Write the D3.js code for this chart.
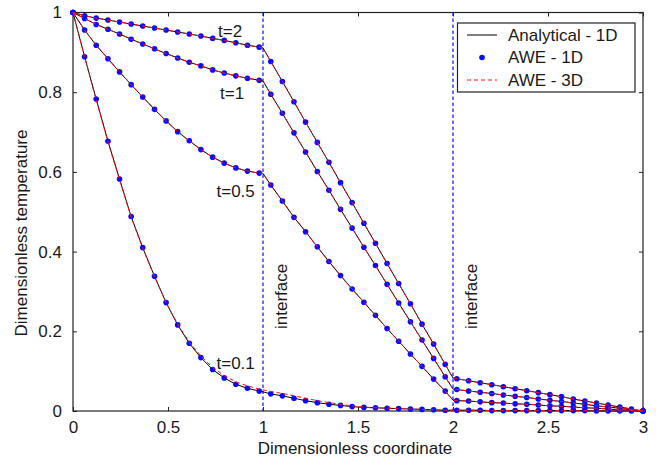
<!DOCTYPE html>
<html>
<head>
<meta charset="utf-8">
<script src="https://cdn.jsdelivr.net/npm/d3@7"></script>
<style>
  body { margin: 0; background: #fff; }
  text { font-family: "Liberation Sans", Arial, sans-serif; fill: #1a1a1a; }
</style>
</head>
<body>
<svg id="chart" width="656" height="459"></svg>
<script>
// dimensionless coordinate (dot grid plus the two interfaces)
const xGrid = [0, 0.061, 0.122, 0.184, 0.245, 0.306, 0.367, 0.429, 0.490, 0.551, 0.612, 0.673, 0.735, 0.796, 0.857, 0.918, 0.980, 1.0,
  1.041, 1.102, 1.163, 1.224, 1.286, 1.347, 1.408, 1.469, 1.531, 1.592, 1.653, 1.714, 1.776, 1.837, 1.898, 1.959, 2.0,
  2.020, 2.082, 2.143, 2.204, 2.265, 2.327, 2.388, 2.449, 2.510, 2.571, 2.633, 2.694, 2.755, 2.816, 2.878, 2.939, 3.0]
const interfaceX = [1, 2]

// temperature profiles, analytical 1D
const t2 = [1.0, 0.992, 0.986, 0.981, 0.976, 0.971, 0.966, 0.961, 0.956, 0.951, 0.946, 0.941, 0.935, 0.930, 0.924, 0.918, 0.913, 0.911,
  0.877, 0.827, 0.776, 0.725, 0.674, 0.624, 0.573, 0.523, 0.471, 0.421, 0.370, 0.320, 0.269, 0.218, 0.168, 0.117, 0.083,
  0.081, 0.076, 0.071, 0.066, 0.061, 0.056, 0.051, 0.046, 0.041, 0.036, 0.030, 0.025, 0.020, 0.015, 0.010, 0.005, 0]
const t1 = [1.0, 0.985, 0.970, 0.958, 0.946, 0.933, 0.921, 0.909, 0.897, 0.886, 0.875, 0.866, 0.856, 0.848, 0.841, 0.835, 0.830, 0.828,
  0.795, 0.747, 0.698, 0.650, 0.601, 0.554, 0.506, 0.459, 0.411, 0.365, 0.318, 0.271, 0.224, 0.178, 0.132, 0.086, 0.055,
  0.054, 0.050, 0.047, 0.044, 0.040, 0.037, 0.034, 0.030, 0.027, 0.024, 0.020, 0.017, 0.013, 0.010, 0.007, 0.003, 0]
const t05 = [1.0, 0.956, 0.918, 0.884, 0.851, 0.819, 0.788, 0.757, 0.728, 0.701, 0.678, 0.656, 0.637, 0.622, 0.610, 0.602, 0.597, 0.596,
  0.567, 0.527, 0.486, 0.450, 0.412, 0.375, 0.340, 0.306, 0.273, 0.240, 0.207, 0.175, 0.143, 0.112, 0.080, 0.050, 0.027,
  0.026, 0.025, 0.023, 0.021, 0.020, 0.018, 0.017, 0.015, 0.013, 0.012, 0.010, 0.008, 0.007, 0.005, 0.003, 0.002, 0]
const t01 = [1.0, 0.889, 0.783, 0.677, 0.582, 0.488, 0.410, 0.338, 0.272, 0.216, 0.170, 0.134, 0.104, 0.083, 0.067, 0.057, 0.050, 0.048,
  0.043, 0.038, 0.032, 0.026, 0.021, 0.017, 0.014, 0.011, 0.009, 0.008, 0.007, 0.006, 0.005, 0.004, 0.003, 0.002, 0.002,
  0.002, 0.002, 0.002, 0.001, 0.001, 0.001, 0.001, 0.001, 0.001, 0.001, 0.001, 0.001, 0, 0, 0, 0, 0]
// AWE 3D differs visibly only for t=0.1
const t01Awe3d = [1.0, 0.889, 0.781, 0.675, 0.580, 0.487, 0.408, 0.337, 0.272, 0.218, 0.173, 0.138, 0.109, 0.089, 0.073, 0.063, 0.055, 0.053,
  0.049, 0.044, 0.038, 0.032, 0.026, 0.021, 0.017, 0.013, 0.010, 0.008, 0.007, 0.006, 0.005, 0.004, 0.003, 0.002, 0.002,
  0.002, 0.002, 0.002, 0.001, 0.001, 0.001, 0.001, 0.001, 0.001, 0.001, 0.001, 0.001, 0, 0, 0, 0, 0]

const analytical = [t2, t1, t05, t01]
const awe1d = [t2, t1, t05, t01]
const awe3d = [t2, t1, t05, t01Awe3d]
const timeLabels = ['t=2', 't=1', 't=0.5', 't=0.1']
const legendLabels = ['Analytical - 1D', 'AWE - 1D', 'AWE - 3D']
const xTicks = [0, 0.5, 1, 1.5, 2, 2.5, 3]
const yTicks = [0, 0.2, 0.4, 0.6, 0.8, 1]

const svg = d3.select('#chart')
const x = d3.scaleLinear().domain([0, 3]).range([73, 643])
const y = d3.scaleLinear().domain([0, 1]).range([411, 12.5])
const fontSize = '17px'

// axes, ticks pointing inward like matlab
const gx = svg.append('g').attr('transform', 'translate(0,411)')
  .call(d3.axisBottom(x).tickValues(xTicks).tickSize(-4).tickSizeOuter(0).tickPadding(10).tickFormat(d3.format('~g')))
const gy = svg.append('g').attr('transform', 'translate(73,0)')
  .call(d3.axisLeft(y).tickValues(yTicks).tickSize(-4).tickSizeOuter(0).tickPadding(11).tickFormat(d3.format('~g')))
const gt = svg.append('g').attr('transform', 'translate(0,12.5)')
  .call(d3.axisTop(x).tickValues(xTicks).tickSize(-4).tickSizeOuter(0).tickFormat(''))
const gr = svg.append('g').attr('transform', 'translate(643,0)')
  .call(d3.axisRight(y).tickValues(yTicks).tickSize(-4).tickSizeOuter(0).tickFormat(''))
;[gx, gy, gt, gr].forEach(g => {
  g.select('.domain').remove()
  g.selectAll('line').attr('stroke', '#222')
  g.selectAll('text').style('font-size', fontSize).attr('fill', '#1a1a1a')
  g.attr('font-family', null)
})

svg.append('rect')
  .attr('x', 73).attr('y', 12.5)
  .attr('width', 570).attr('height', 398.5)
  .attr('fill', 'none').attr('stroke', '#222').attr('stroke-width', 1.2)

// interfaces
svg.selectAll('.iface')
  .data(interfaceX)
  .join('line')
  .attr('class', 'iface')
  .attr('x1', d => x(d)).attr('x2', d => x(d))
  .attr('y1', y(1)).attr('y2', y(0))
  .attr('stroke', '#1010ff').attr('stroke-width', 1.2)
  .attr('stroke-dasharray', '3.5,2.5')

svg.selectAll('.iface-label')
  .data(interfaceX)
  .join('text')
  .attr('class', 'iface-label')
  .attr('transform', d => `translate(${x(d) + 24},329) rotate(-90)`)
  .style('font-size', fontSize)
  .text('interface')

const line = d3.line()
  .x((d, i) => x(xGrid[i]))
  .y(d => y(d))

// analytical 1D
svg.selectAll('.analytical')
  .data(analytical)
  .join('path')
  .attr('class', 'analytical')
  .attr('d', d => line(d))
  .attr('fill', 'none').attr('stroke', '#000').attr('stroke-width', 1)

// AWE 1D dots
awe1d.forEach(series => {
  svg.append('g').selectAll('circle')
    .data(series.map((v, i) => [xGrid[i], v]).filter(p => !interfaceX.includes(p[0])))
    .join('circle')
    .attr('cx', d => x(d[0])).attr('cy', d => y(d[1]))
    .attr('r', 2.8)
    .attr('fill', '#0a0aff')
})

// AWE 3D
svg.selectAll('.awe3d')
  .data(awe3d)
  .join('path')
  .attr('class', 'awe3d')
  .attr('d', d => line(d))
  .attr('fill', 'none').attr('stroke', '#ff1010').attr('stroke-width', 1)
  .attr('stroke-dasharray', '4,3')

// time labels
const labelPos = [[218, 36.5], [220, 99], [216.5, 197], [216.5, 369]]
svg.selectAll('.tlabel')
  .data(timeLabels)
  .join('text')
  .attr('class', 'tlabel')
  .attr('x', (d, i) => labelPos[i][0])
  .attr('y', (d, i) => labelPos[i][1])
  .style('font-size', fontSize)
  .text(d => d)

// axis titles
svg.append('text')
  .attr('x', 355).attr('y', 454)
  .attr('text-anchor', 'middle')
  .style('font-size', fontSize)
  .text('Dimensionless coordinate')

svg.append('text')
  .attr('transform', 'translate(27,233) rotate(-90)')
  .attr('text-anchor', 'middle')
  .style('font-size', fontSize)
  .text('Dimensionless temperature')

// legend
const legend = svg.append('g')
legend.append('rect')
  .attr('x', 457.5).attr('y', 23)
  .attr('width', 177.5).attr('height', 69)
  .attr('fill', '#fff').attr('stroke', '#222').attr('stroke-width', 1.2)

const rowY = [35, 57.5, 80]
legend.append('line')
  .attr('x1', 467).attr('x2', 497).attr('y1', rowY[0]).attr('y2', rowY[0])
  .attr('stroke', '#000')
legend.append('circle')
  .attr('cx', 482).attr('cy', rowY[1]).attr('r', 2.8).attr('fill', '#0a0aff')
legend.append('line')
  .attr('x1', 467).attr('x2', 497).attr('y1', rowY[2]).attr('y2', rowY[2])
  .attr('stroke', '#ff1010').attr('stroke-dasharray', '4,3')

legend.selectAll('.ltext')
  .data(legendLabels)
  .join('text')
  .attr('class', 'ltext')
  .attr('x', 508)
  .attr('y', (d, i) => rowY[i])
  .attr('dy', '0.35em')
  .style('font-size', fontSize)
  .text(d => d)
</script>
</body>
</html>
